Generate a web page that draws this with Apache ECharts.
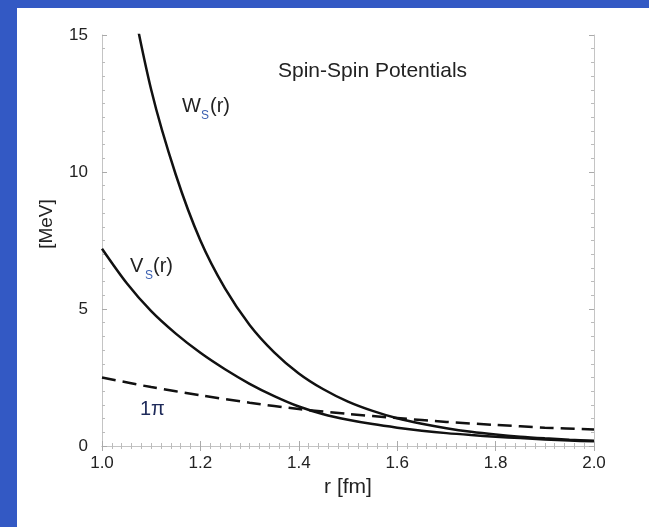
<!DOCTYPE html>
<html><head><meta charset="utf-8">
<script src="https://cdn.jsdelivr.net/npm/echarts@6/dist/echarts.min.js"></script>
<style>html,body{margin:0;padding:0;background:#3359c4;}#c{width:649px;height:527px;}</style>
</head><body><div id="c"></div>
<script>
// r values (fm) and potentials (MeV)
const rWs = [1.05,1.10,1.15,1.20,1.25,1.30,1.35,1.40,1.45,1.50,1.55,1.60,1.65,1.70,1.75,1.80,1.85,1.90,1.95,2.00];
const Ws  = [17.3,13.0,9.9,7.5,5.75,4.42,3.42,2.65,2.07,1.62,1.28,1.01,0.81,0.65,0.52,0.42,0.34,0.28,0.23,0.19];
const rVs = [1.00,1.05,1.10,1.15,1.20,1.25,1.30,1.35,1.40,1.45,1.50,1.55,1.60,1.65,1.70,1.75,1.80,1.85,1.90,1.95,2.00];
const Vs  = [7.2,5.95,4.92,4.1,3.4,2.8,2.27,1.82,1.44,1.16,0.96,0.8,0.67,0.56,0.47,0.4,0.34,0.29,0.24,0.2,0.17];
const rPi = [1.0,1.1,1.2,1.3,1.4,1.5,1.6,1.7,1.8,1.9,2.0];
const Pi1 = [2.5,2.15,1.85,1.58,1.35,1.17,1.02,0.88,0.77,0.67,0.6];
const xTicks = ['1.0','1.2','1.4','1.6','1.8','2.0'];
const yTicks = ['0','5','10','15'];

const zip = (a,b)=>a.map((v,i)=>[v,b[i]]);
const chart = echarts.init(document.getElementById('c'));
const txt = '#222';
const font = 'Liberation Sans, Arial, sans-serif';
const axisBase = {
  axisLine:{show:true,lineStyle:{color:'#c4c4c4',width:1}},
  axisTick:{show:true,inside:true,length:5,lineStyle:{color:'#aaa'}},
  minorTick:{show:true,splitNumber:10,length:3,lineStyle:{color:'#bbb'}},
  splitLine:{show:false}
};
chart.setOption({
  backgroundColor:'#3359c4',
  animation:false,
  graphic:[
    {type:'rect',left:17,top:8,shape:{width:632,height:519},style:{fill:'#fff'},z:-10},
    {type:'text',left:278,top:61,style:{text:'Spin-Spin Potentials',font:'21px '+font,fill:txt}},
    {type:'text',left:182,top:96,style:{text:'W',font:'20px '+font,fill:txt}},
    {type:'text',left:201,top:110,style:{text:'S',font:'12px '+font,fill:'#3a5fb0'}},
    {type:'text',left:210,top:96,style:{text:'(r)',font:'20px '+font,fill:txt}},
    {type:'text',left:130,top:256,style:{text:'V',font:'20px '+font,fill:txt}},
    {type:'text',left:145,top:270,style:{text:'S',font:'12px '+font,fill:'#3a5fb0'}},
    {type:'text',left:153,top:256,style:{text:'(r)',font:'20px '+font,fill:txt}},
    {type:'text',left:140,top:399,style:{text:'1π',font:'20px '+font,fill:'#1e2a5a'}},
    {type:'text',x:47,y:224,rotation:Math.PI/2,style:{text:'[MeV]',font:'19px '+font,fill:txt,textAlign:'center',textVerticalAlign:'middle'}}
  ],
  grid:{left:102,top:35,width:492,height:411},
  xAxis:[
    Object.assign({},axisBase,{type:'value',min:1,max:2,interval:0.2,position:'bottom',
      name:'r [fm]',nameLocation:'middle',nameGap:30,
      nameTextStyle:{fontSize:21,color:txt,fontFamily:font},
      axisLabel:{margin:9,fontSize:17,color:txt,fontFamily:font,formatter:v=>xTicks[Math.round((v-1)/0.2)]}}),
    Object.assign({},axisBase,{type:'value',min:1,max:2,interval:0.2,position:'top',axisLabel:{show:false}})
  ],
  yAxis:[
    Object.assign({},axisBase,{type:'value',min:0,max:15,interval:5,position:'left',
      axisLabel:{margin:14,fontSize:17,color:txt,fontFamily:font,formatter:v=>yTicks[Math.round(v/5)]}}),
    Object.assign({},axisBase,{type:'value',min:0,max:15,interval:5,position:'right',axisLabel:{show:false}})
  ],
  series:[
    {type:'line',data:zip(rWs,Ws),smooth:0.3,showSymbol:false,clip:true,lineStyle:{color:'#111',width:2.5}},
    {type:'line',data:zip(rVs,Vs),smooth:0.3,showSymbol:false,lineStyle:{color:'#111',width:2.5}},
    {type:'line',data:zip(rPi,Pi1),smooth:0.3,showSymbol:false,lineStyle:{color:'#111',width:2.5,type:[14,7]}}
  ]
});
</script></body></html>
